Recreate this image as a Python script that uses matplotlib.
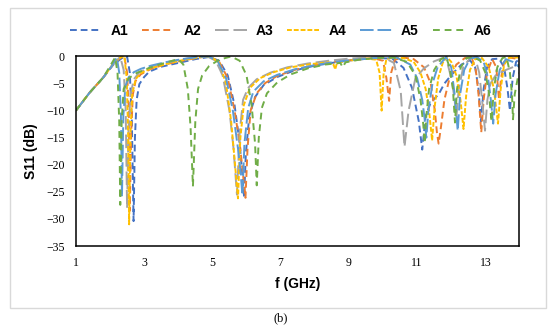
import matplotlib
matplotlib.use("Agg")
import matplotlib.pyplot as plt
from matplotlib.patches import Rectangle

# ==================== data ====================
f_a1 = [1.0, 1.4, 1.8, 2.1, 2.35, 2.5, 2.58, 2.64, 2.69, 2.73, 2.78, 2.86, 3.0, 3.15, 3.5, 4.0,
        4.5, 4.9, 5.2, 5.45, 5.65, 5.8, 5.88, 5.93, 5.98, 6.08, 6.25, 6.5, 6.9, 7.4, 8.0, 8.6,
        9.2, 9.8, 10.27, 10.6, 10.85, 11.05, 11.15, 11.25, 11.4, 11.63, 11.8, 12.02, 12.3, 12.55,
        12.7, 12.8, 12.87, 12.95, 13.05, 13.2, 13.4, 13.55, 13.65, 13.72, 13.8, 13.9, 14.0]
s_a1 = [-10, -6.7, -3.9, -1.5, -0.3, 0, -3, -12, -30.4, -15, -8, -5.1, -3.8, -2.8, -1.9, -1.2,
        -0.5, -0.1, -0.8, -3.5, -9, -16, -22, -26, -18, -11, -7.5, -5.3, -3.8, -2.6, -1.7, -1.1,
        -0.6, -0.3, -0.4, -2.1, -5.8, -12, -17.2, -11, -8.5, -7, -5, -3.3, -1.5, -0.7,
        -2, -6, -12, -6, -2, -0.5, -0.4, -2, -6, -10, -4, -1, -0.5]

f_a2 = [1.0, 1.4, 1.8, 2.1, 2.32, 2.42, 2.5, 2.55, 2.58, 2.62, 2.67, 2.75, 2.9, 3.2, 3.6, 4.1,
        4.6, 4.9, 5.2, 5.45, 5.65, 5.8, 5.9, 5.97, 6.03, 6.12, 6.3, 6.55, 6.9, 7.4, 8.0, 8.6,
        9.2, 9.7, 10.0, 10.1, 10.18, 10.24, 10.35, 10.6, 10.9, 11.2, 11.4, 11.52, 11.58, 11.63,
        11.7, 11.8, 11.95, 12.15, 12.4, 12.6, 12.72, 12.8, 12.88, 12.95, 13.05, 13.2, 13.32,
        13.4, 13.46, 13.55, 13.7, 14.0]
s_a2 = [-10, -6.7, -3.9, -1.4, -0.2, 0, -3, -10, -28.5, -14, -7, -4.5, -3.3, -2.3, -1.5, -0.8,
        -0.2, 0, -1, -4, -10, -16, -22, -26.1, -17, -10, -6.8, -4.9, -3.6, -2.5, -1.6, -1.0,
        -0.6, -0.3, -0.8, -4, -8.2, -3, -0.6, -0.2, -0.5, -2, -5, -10, -14, -16.1,
        -13, -8, -4, -1.5, -0.3, -0.2, -2.5, -7, -14, -8, -3, -0.5, -2,
        -8, -4, -1, -0.2, -0.5]

f_a3 = [1.0, 1.4, 1.8, 2.1, 2.3, 2.4, 2.46, 2.5, 2.54, 2.6, 2.7, 2.85, 3.1, 3.5, 4.0, 4.5,
        4.85, 5.1, 5.3, 5.5, 5.62, 5.72, 5.8, 5.9, 6.05, 6.3, 6.7, 7.2, 7.8, 8.4, 9.0, 9.6,
        10.0, 10.32, 10.52, 10.63, 10.75, 10.95, 11.2, 11.5, 11.75, 11.9, 12.02, 12.1, 12.15,
        12.22, 12.35, 12.55, 12.7, 12.82, 12.92, 12.99, 13.06, 13.15, 13.3, 13.6, 14.0]
s_a3 = [-10, -6.7, -3.9, -1.3, -0.1, -2.5, -10, -28, -14, -7, -4.2, -3, -2.2, -1.4, -0.7, -0.1,
        0, -0.8, -3.5, -10, -17, -25.5, -14, -8, -5.8, -4.2, -3, -2, -1.3, -0.8, -0.4, -0.2,
        -0.1, -1.2, -6.4, -16.7, -10, -4, -2.2, -0.9, -0.3, -1.5, -4.5, -8, -11.3,
        -6, -2, -0.3, -0.2, -3, -9, -13.7, -8, -5, -3.5, -2.5, -1.5]

f_a4 = [1.0, 1.4, 1.8, 2.1, 2.32, 2.42, 2.49, 2.53, 2.56, 2.6, 2.65, 2.75, 2.9, 3.2, 3.7, 4.2,
        4.7, 4.95, 5.2, 5.4, 5.55, 5.65, 5.75, 5.82, 5.92, 6.1, 6.4, 6.8, 7.3, 7.9, 8.4, 8.55,
        8.6, 8.65, 9.0, 9.5, 9.8, 9.9, 9.96, 10.02, 10.1, 10.3, 10.6, 10.9, 11.1, 11.25, 11.35,
        11.44, 11.52, 11.62, 11.75, 11.87, 12.0, 12.15, 12.27, 12.36, 12.44, 12.55, 12.7, 12.9,
        13.1, 13.25, 13.37, 13.45, 13.55, 13.7, 14.0]
s_a4 = [-10, -6.7, -3.9, -1.3, -0.1, 0, -4, -14, -31, -14, -7, -4.2, -3.1, -2.2, -1.3, -0.6,
        -0.1, 0, -1.2, -5, -12, -19, -26.2, -15, -9, -5.8, -4, -2.9, -2, -1.4, -1.1, -1.5,
        -2.4, -1.2, -0.8, -0.4, -0.6, -3, -10, -3, -0.5, -0.2, -0.3, -1, -3, -6, -10,
        -15.5, -9, -4, -1.2, -0.1, -1, -3.5, -8, -13.4, -7, -2.5, -0.5, -0.3,
        -2, -6, -12.4, -6, -1.5, -0.2, -0.2]

f_a5 = [1.0, 1.4, 1.8, 2.05, 2.2, 2.27, 2.32, 2.35, 2.39, 2.45, 2.55, 2.7, 2.9, 3.2, 3.6, 4.1,
        4.6, 4.9, 5.15, 5.4, 5.6, 5.75, 5.82, 5.88, 5.94, 6.05, 6.2, 6.5, 6.9, 7.4, 8.0, 8.6,
        9.2, 9.8, 10.4, 10.8, 11.0, 11.15, 11.22, 11.27, 11.33, 11.45, 11.6, 11.85, 12.0, 12.1,
        12.19, 12.26, 12.38, 12.55, 12.75, 12.95, 13.08, 13.16, 13.23, 13.3, 13.42, 13.6, 13.8, 14.0]
s_a5 = [-10, -6.7, -3.9, -1.8, -0.2, -3, -11, -25.9, -11, -5.5, -3.8, -2.9, -2.3, -1.7, -1.1, -0.5,
        -0.1, 0, -0.8, -4, -10, -17, -21, -25.6, -16, -9.5, -6.5, -4.6, -3.4, -2.4, -1.6, -1.0,
        -0.6, -0.3, -0.2, -1.5, -4, -8, -11.5, -15, -10, -5, -2, -0.1, -2, -7,
        -13.7, -7, -2.5, -0.4, -0.1, -1, -4, -8, -12.4, -7, -2.5, -0.5, -1, -2]

f_a6 = [1.0, 1.4, 1.8, 2.0, 2.15, 2.22, 2.27, 2.30, 2.34, 2.40, 2.55, 2.8, 3.2, 3.6, 4.0, 4.15,
        4.28, 4.36, 4.43, 4.50, 4.58, 4.7, 4.9, 5.2, 5.55, 5.8, 6.0, 6.15, 6.25, 6.30, 6.36, 6.45,
        6.6, 6.9, 7.3, 7.8, 8.3, 8.75, 8.82, 8.9, 9.3, 9.8, 10.3, 10.7, 10.95, 11.1, 11.18, 11.22,
        11.27, 11.35, 11.5, 11.7, 11.85, 11.95, 12.05, 12.11, 12.17, 12.28, 12.45, 12.65, 12.85,
        13.0, 13.1, 13.18, 13.25, 13.35, 13.5, 13.62, 13.72, 13.78, 13.81, 13.86, 13.95, 14.0]
s_a6 = [-10, -6.7, -3.9, -1.8, -0.2, -3, -12, -27.4, -12, -6, -4, -3, -2, -1.2, -0.5, -1.5,
        -6, -13, -24, -12, -6, -3.5, -1.8, -0.6, 0, -0.8, -3.5, -9, -16, -23.8, -15, -9.5,
        -6.8, -4.8, -3.3, -2.2, -1.5, -1.2, -2.0, -1.1, -0.6, -0.3, -0.2, -1.0, -3.5, -8, -12.5, -16,
        -11, -6, -2.5, -0.5, -0.1, -2, -6, -12.2, -6, -2, -0.3, -0.1, -0.8,
        -3, -6.5, -12, -6, -2, -0.3, -0.1, -3, -7, -11.6, -7, -4, -3]

labels = ["A1", "A2", "A3", "A4", "A5", "A6"]
x_ticks = [1, 3, 5, 7, 9, 11, 13]
y_ticks = [0, -5, -10, -15, -20, -25, -30, -35]
# ================================================================

series_f = [f_a1, f_a2, f_a3, f_a4, f_a5, f_a6]
series_s = [s_a1, s_a2, s_a3, s_a4, s_a5, s_a6]
colors = ["#4472C4", "#ED7D31", "#A5A5A5", "#FFC000", "#5B9BD5", "#70AD47"]
dashes = [(3.5, 2), (3.5, 2), (7, 2.5), (2.5, 1), (7, 2), (3.5, 2.5)]

fig = plt.figure(figsize=(5.5, 3.3), dpi=100)
fig.patches.append(Rectangle((0.018, 0.068), 0.975, 0.907, transform=fig.transFigure,
                             fill=False, edgecolor="#D9D9D9", linewidth=1.0))

ax = fig.add_axes([0.138, 0.2545, 0.8065, 0.5745])
for f, s, c, d, lab in zip(series_f, series_s, colors, dashes, labels):
    ax.plot(f, s, color=c, linewidth=1.4, dashes=d, label=lab)

ax.set_xlim(1, 14)
ax.set_ylim(-35, 0)
ax.set_xticks(x_ticks)
ax.set_yticks(y_ticks)
ax.tick_params(length=0, pad=8, labelsize=8.5)
for t in ax.get_xticklabels() + ax.get_yticklabels():
    t.set_fontfamily("Liberation Serif")
for sp in ax.spines.values():
    sp.set_linewidth(1.1)
    sp.set_color("black")

ax.set_xlabel("f (GHz)", fontsize=10, fontweight="bold", family="Liberation Sans", labelpad=6)
ax.set_ylabel("S11 (dB)", fontsize=10, fontweight="bold", family="Liberation Sans", labelpad=6)

fig.legend(loc="center", bbox_to_anchor=(0.51, 0.906), ncol=6, frameon=False,
           handlelength=2.3, columnspacing=1.0, handletextpad=0.65,
           prop={"family": "Liberation Sans", "weight": "bold", "size": 10})

fig.text(0.51, 0.035, "(b)", ha="center", va="center", fontsize=9, family="Liberation Serif")

plt.savefig("out.png", dpi=100)
plt.close(fig)
